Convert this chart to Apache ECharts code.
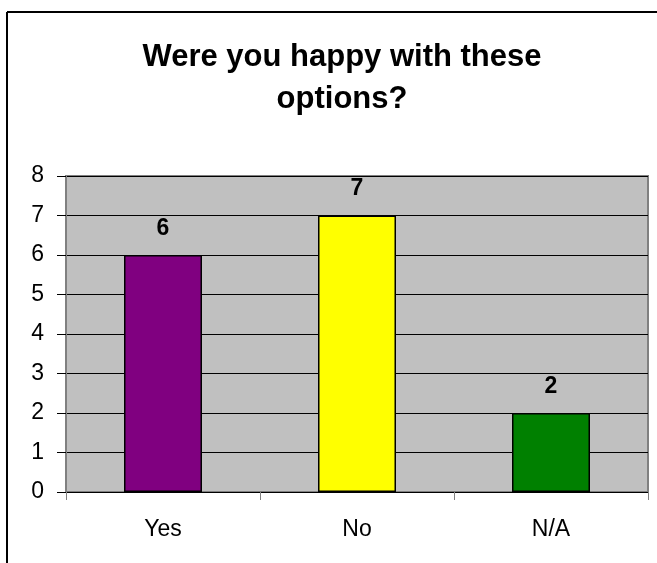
<!DOCTYPE html>
<html>
<head>
<meta charset="utf-8">
<script src="https://cdn.jsdelivr.net/npm/echarts@6/dist/echarts.min.js"></script>
<style>
html,body{margin:0;padding:0;background:#fff;}
#chart{width:657px;height:563px;}
</style>
</head>
<body>
<div id="chart"></div>
<script>
const titleText = "Were you happy with these\noptions?";
const categories = ["Yes", "No", "N/A"];
const values = [6, 7, 2];
const barColors = ["#800080", "#FFFF00", "#008000"];
const yTicks = [0, 1, 2, 3, 4, 5, 6, 7, 8];

const font = "Liberation Sans, Arial, sans-serif";
const chart = echarts.init(document.getElementById("chart"), null, {renderer: "canvas"});
chart.setOption({
  backgroundColor: "#ffffff",
  animation: false,
  title: {
    text: titleText,
    left: 337,
    top: 31,
    textAlign: "center",
    textStyle: {
      fontFamily: font, fontWeight: "bold", fontSize: 31,
      lineHeight: 42, color: "#000"
    }
  },
  graphic: [
    {type: "line", shape: {x1: 7, y1: 12, x2: 657, y2: 12}, style: {stroke: "#000", lineWidth: 2}},
    {type: "line", shape: {x1: 7, y1: 12, x2: 7, y2: 563}, style: {stroke: "#000", lineWidth: 2}}
  ],
  grid: {
    left: 66, right: 9, top: 176, bottom: 71,
    show: true, backgroundColor: "#C0C0C0", borderColor: "#808080", borderWidth: 2
  },
  xAxis: {
    type: "category",
    data: categories,
    axisLine: {lineStyle: {color: "#000", width: 1}},
    axisTick: {show: true, length: 8, lineStyle: {color: "#808080"}},
    axisLabel: {fontFamily: font, fontSize: 23, color: "#000", margin: 26}
  },
  yAxis: {
    type: "value",
    min: yTicks[0], max: yTicks[yTicks.length - 1], interval: 1,
    axisLine: {show: true, lineStyle: {color: "#808080", width: 2}},
    axisTick: {show: true, length: 9, lineStyle: {color: "#000"}},
    axisLabel: {fontFamily: font, fontSize: 23, color: "#000", margin: 22},
    splitLine: {show: true, lineStyle: {color: "#000", width: 1}}
  },
  series: [{
    type: "bar",
    barWidth: 78,
    data: values.map((v, i) => ({value: v, itemStyle: {color: barColors[i]}})),
    itemStyle: {borderColor: "#000", borderWidth: 1.5},
    label: {
      show: true, position: "top", distance: 15,
      fontFamily: font, fontWeight: "bold", fontSize: 23, color: "#000"
    }
  }]
});
</script>
</body>
</html>
